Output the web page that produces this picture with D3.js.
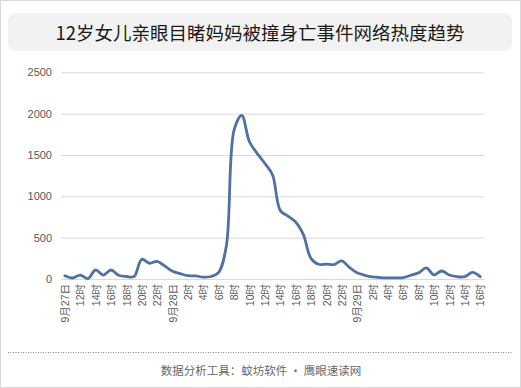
<!DOCTYPE html>
<html><head><meta charset="utf-8">
<script src="https://cdn.jsdelivr.net/npm/d3@7"></script>
<style>
html,body{margin:0;padding:0;background:#fff;}
svg{display:block;}
</style></head>
<body>
<svg id="c" width="521" height="388"></svg>
<script>
// ---- data ----
const title = "12岁女儿亲眼目睹妈妈被撞身亡事件网络热度趋势";
const footer = "数据分析工具：蚊坊软件 · 鹰眼速读网";
// hourly categories: 9月27日10时 .. 9月29日16时
const categories = [
  "27日10时","27日11时","27日12时","27日13时","27日14时","27日15时","27日16时","27日17时","27日18时","27日19时","27日20时","27日21时","27日22时","27日23时",
  "28日0时","28日1时","28日2时","28日3时","28日4时","28日5时","28日6时","28日7时","28日8时","28日9时","28日10时","28日11时","28日12时","28日13时",
  "28日14时","28日15时","28日16时","28日17时","28日18时","28日19时","28日20时","28日21时","28日22时","28日23时",
  "29日0时","29日1时","29日2时","29日3时","29日4时","29日5时","29日6时","29日7时","29日8时","29日9时","29日10时","29日11时","29日12时","29日13时",
  "29日14时","29日15时","29日16时"
];
const values = [
  40, 12, 48, 5, 109, 48, 109, 45, 30, 30, 238, 190, 214, 157,
  93, 64, 40, 38, 22, 30, 80, 400, 1800, 1980, 1660, 1520, 1400, 1260,
  830, 760, 690, 540, 250, 178, 180, 175, 220, 140,
  75, 45, 25, 17, 13, 13, 18, 45, 75, 135, 50, 97, 48, 28,
  28, 80, 28
];
const tickLabels = [
  "9月27日","12时","14时","16时","18时","20时","22时",
  "9月28日","2时","4时","6时","8时","10时","12时","14时","16时","18时","20时","22时",
  "9月29日","2时","4时","6时","8时","10时","12时","14时","16时"
];
const yTicks = [0, 500, 1000, 1500, 2000, 2500];

// ---- drawing ----
const svg = d3.select("#c");
const W = 521, H = 388;
const font = "'Liberation Sans','Noto Sans CJK SC',sans-serif";

svg.append("rect").attr("x",0.5).attr("y",0.5).attr("width",W-1).attr("height",H-1)
  .attr("fill","#fff").attr("stroke","#d9d9d9");

// title box
svg.append("rect").attr("x",8).attr("y",13).attr("width",504).attr("height",38)
  .attr("rx",7).attr("fill","#f2f2f2");
svg.append("text").attr("x",260).attr("y",32).attr("text-anchor","middle")
  .attr("dominant-baseline","central")
  .style("font-family","'Noto Sans CJK SC',sans-serif").style("font-size","18.5px")
  .attr("fill","#1a1a1a").text(title);

const x = d3.scalePoint().domain(categories).range([61, 484]).padding(0.5);
const y = d3.scaleLinear().domain([0, 2500]).range([279, 72.3]);

// gridlines + y axis
const yAxis = svg.append("g").attr("transform","translate(61,0)")
  .call(d3.axisLeft(y).tickValues(yTicks).tickFormat(d3.format("d")).tickSize(-423).tickPadding(9));
yAxis.select(".domain").remove();
yAxis.selectAll(".tick line").attr("stroke","#d9d9d9").attr("stroke-width",1);
yAxis.selectAll(".tick text").attr("fill","#595959")
  .style("font-family",font).style("font-size","11px");

// x axis labels (every other category)
const labelCats = categories.filter((d,i)=> i % 2 === 0);
const xAxis = svg.append("g").attr("transform","translate(0,279)")
  .call(d3.axisBottom(x).tickValues(labelCats).tickSize(0)
    .tickFormat((d)=> tickLabels[labelCats.indexOf(d)]));
xAxis.select(".domain").attr("stroke","#d9d9d9");
xAxis.selectAll(".tick text")
  .attr("transform","translate(0,5) rotate(-90)")
  .attr("x",0).attr("y",0).attr("dy","0.35em")
  .attr("text-anchor","end")
  .attr("fill","#595959")
  .style("font-family",font).style("font-size","10.5px");

// line
const line = d3.line()
  .x((d,i)=> x(categories[i]))
  .y((d)=> y(d))
  .curve(d3.curveCatmullRom.alpha(0.5));
svg.append("path").datum(values).attr("d",line)
  .attr("fill","none").attr("stroke","#4f71a3").attr("stroke-width",2.8)
  .attr("stroke-linejoin","round").attr("stroke-linecap","round");

// footer
svg.append("line").attr("x1",8).attr("x2",513).attr("y1",352.5).attr("y2",352.5)
  .attr("stroke","#888").attr("stroke-dasharray","1,1.5");
svg.append("text").attr("x",261).attr("y",370).attr("text-anchor","middle")
  .attr("dominant-baseline","central")
  .style("font-family","'Noto Sans CJK SC',sans-serif").style("font-size","11.5px")
  .attr("fill","#666").text(footer);
</script>
</body></html>
